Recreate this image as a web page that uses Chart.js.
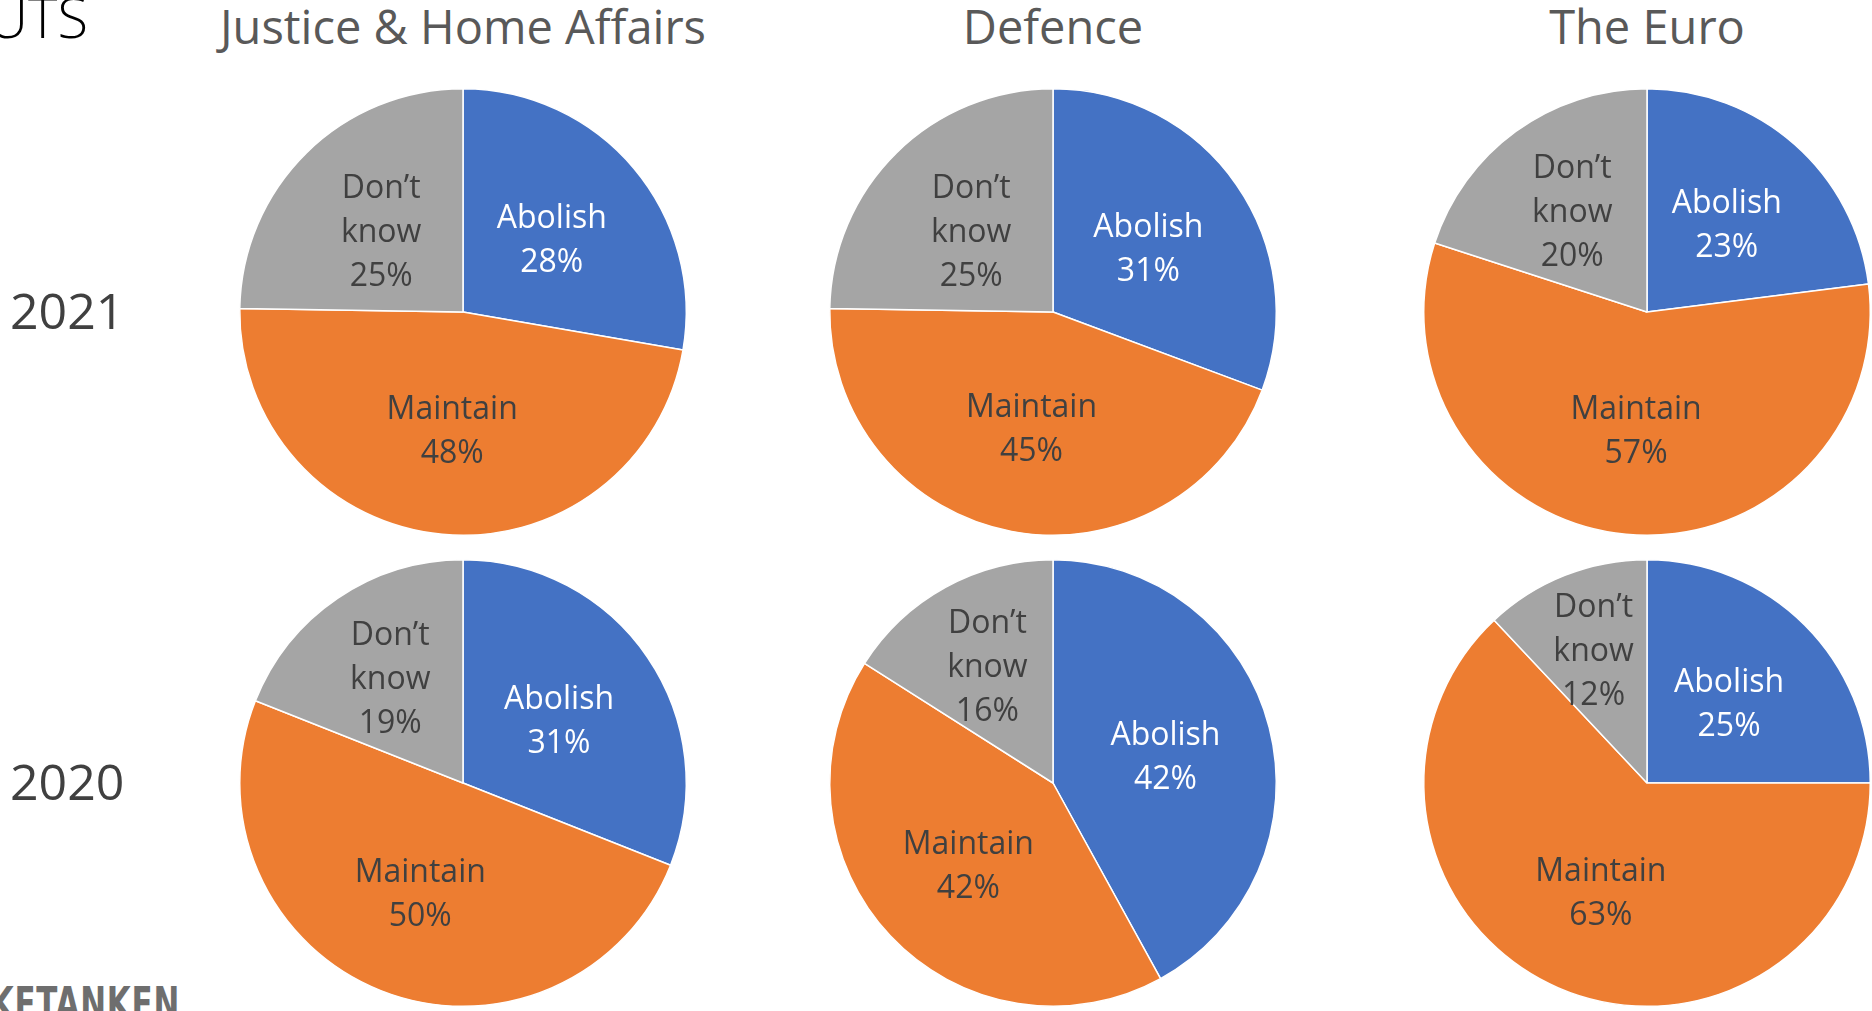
<!DOCTYPE html>
<html>
<head>
<meta charset="utf-8">
<script src="https://cdn.jsdelivr.net/npm/chart.js@4"></script>
<style>
  body { margin: 0; width: 1872px; height: 1011px; overflow: hidden; background: #ffffff; position: relative; font-family: 'Open Sans', sans-serif; }
  .pie { position: absolute; width: 460px; height: 460px; }
  .title { position: absolute; top: -6px; width: 600px; text-align: center; font-size: 47px; color: #595959; white-space: nowrap; }
  .year { position: absolute; left: 10px; font-size: 50px; color: #404040; }
  .slideTitle { position: absolute; right: 1784px; top: -22px; font-size: 56px; font-weight: 300; color: #000; white-space: nowrap; }
  .logo { position: absolute; right: 1692px; top: 978px; font-family: 'DejaVu Sans Condensed', sans-serif; font-weight: 600; font-size: 44px; color: #6e6e6e; white-space: nowrap; letter-spacing: 1px; transform: scaleX(0.78); transform-origin: right top; }
</style>
</head>
<body>
<div class="slideTitle">OPT-OUTS</div>
<div class="logo">TÆNKETANKEN</div>

<script>
const topics = ['Justice & Home Affairs', 'Defence', 'The Euro'];
const years = ['2021', '2020'];
const answers = ['Abolish', 'Maintain', 'Don’t know'];

// percentages per topic, [Abolish, Maintain, Don't know]
const jha2021 = [28, 48, 25];
const defence2021 = [31, 45, 25];
const euro2021 = [23, 57, 20];
const jha2020 = [31, 50, 19];
const defence2020 = [42, 42, 16];
const euro2020 = [25, 63, 12];

const colors = ['#4472C4', '#ED7D31', '#A5A5A5'];
const labelColors = ['#ffffff', '#404040', '#404040'];

// pie centres on the page
const colX = [463, 1053, 1647];
const rowY = [312, 783];

const pies = [
  [jha2021, defence2021, euro2021],
  [jha2020, defence2020, euro2020]
];

// titles and year labels
topics.forEach((t, i) => {
  const d = document.createElement('div');
  d.className = 'title';
  d.style.left = (colX[i] - 300) + 'px';
  d.textContent = t;
  document.body.appendChild(d);
});
years.forEach((y, i) => {
  const d = document.createElement('div');
  d.className = 'year';
  d.style.top = (rowY[i] - 36) + 'px';
  d.textContent = y;
  document.body.appendChild(d);
});

// labels drawn inside the slices, like Excel's best fit
const sliceLabels = {
  id: 'sliceLabels',
  afterDatasetsDraw(chart) {
    const ctx = chart.ctx;
    const ds = chart.data.datasets[0];
    const total = ds.data.reduce((a, b) => a + b, 0);
    chart.getDatasetMeta(0).data.forEach((arc, i) => {
      const p = arc.getProps(['x', 'y', 'startAngle', 'endAngle', 'outerRadius'], true);
      const mid = (p.startAngle + p.endAngle) / 2;
      const share = ds.data[i] / total;
      const frac = 0.52 + Math.max(0, 0.25 - share);
      const px = p.x + Math.cos(mid) * p.outerRadius * frac;
      const py = p.y + Math.sin(mid) * p.outerRadius * frac + 4;
      const lines = chart.data.labels[i].split(' ').concat([ds.data[i] + '%']);
      ctx.save();
      ctx.font = '32px "Open Sans"';
      ctx.fillStyle = labelColors[i];
      ctx.textAlign = 'center';
      ctx.textBaseline = 'middle';
      const lh = 44;
      lines.forEach((l, k) => {
        ctx.fillText(l, px, py + (k - (lines.length - 1) / 2) * lh);
      });
      ctx.restore();
    });
  }
};

pies.forEach((row, r) => {
  row.forEach((values, c) => {
    const wrap = document.createElement('div');
    wrap.className = 'pie';
    wrap.style.left = (colX[c] - 230) + 'px';
    wrap.style.top = (rowY[r] - 230) + 'px';
    const cv = document.createElement('canvas');
    wrap.appendChild(cv);
    document.body.appendChild(wrap);
    new Chart(cv, {
      type: 'pie',
      data: {
        labels: answers,
        datasets: [{
          data: values,
          backgroundColor: colors,
          borderColor: '#ffffff',
          borderWidth: 1.5
        }]
      },
      options: {
        responsive: true,
        maintainAspectRatio: false,
        animation: false,
        layout: { padding: 6 },
        plugins: {
          legend: { display: false },
          tooltip: { enabled: false }
        }
      },
      plugins: [sliceLabels]
    });
  });
});
</script>
</body>
</html>
